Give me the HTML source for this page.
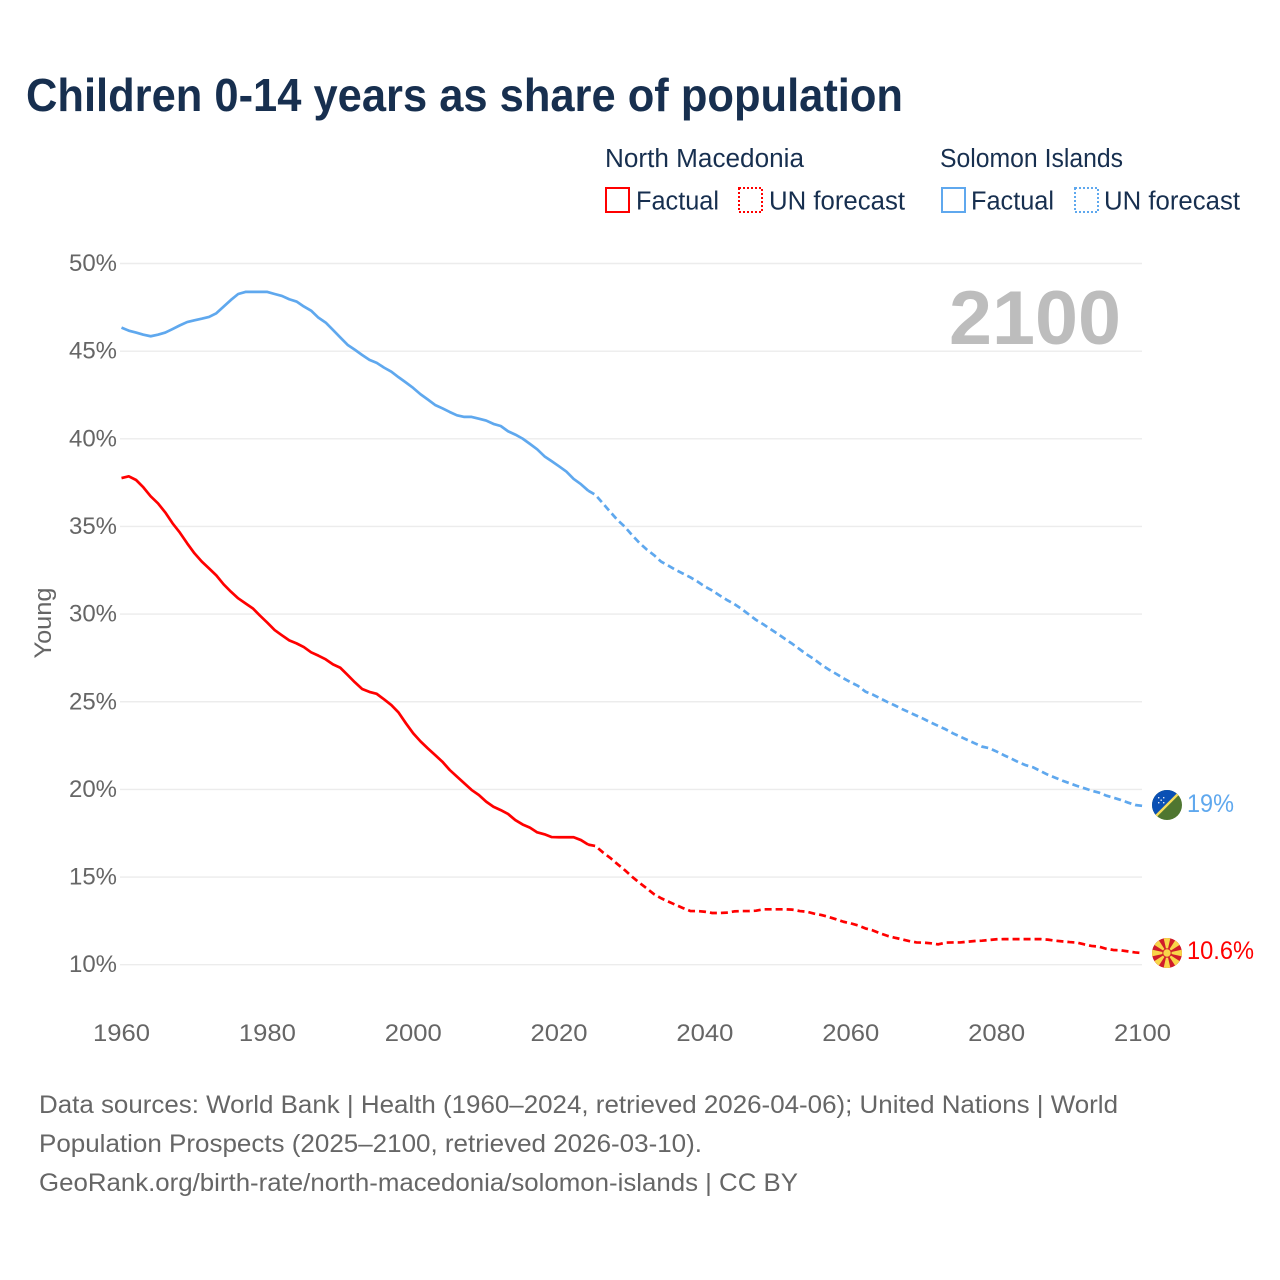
<!DOCTYPE html>
<html lang="en">
<head>
<meta charset="utf-8">
<title>Children 0-14 years as share of population</title>
<style>
  html, body { margin: 0; padding: 0; background: #fff; }
  svg { display: block; font-family: "Liberation Sans", sans-serif; }
  .tick { font-size: 24px; fill: #666; }
  .foot { font-size: 25px; fill: #666; }
  .leg { font-size: 25.5px; fill: #172f4f; }
</style>
</head>
<body>
<svg id="chart" xmlns="http://www.w3.org/2000/svg" width="1280" height="1280" viewBox="0 0 1280 1280">
  <rect width="1280" height="1280" fill="#fff"/>
  <text x="26" y="111" font-size="46" font-weight="700" fill="#172f4f" textLength="877" lengthAdjust="spacingAndGlyphs">Children 0-14 years as share of population</text>

  <g>
    <text class="leg" x="605" y="167" textLength="199" lengthAdjust="spacingAndGlyphs">North Macedonia</text>
    <rect x="606" y="188" width="23" height="24" fill="none" stroke="#ff0000" stroke-width="2"/>
    <text class="leg" x="636" y="209.5" textLength="83" lengthAdjust="spacingAndGlyphs">Factual</text>
    <rect x="739" y="188" width="23" height="24" fill="none" stroke="#ff0000" stroke-width="2" stroke-dasharray="2 2"/>
    <text class="leg" x="769" y="209.5" textLength="136" lengthAdjust="spacingAndGlyphs">UN forecast</text>

    <text class="leg" x="940" y="167" textLength="183" lengthAdjust="spacingAndGlyphs">Solomon Islands</text>
    <rect x="942" y="188" width="23" height="24" fill="none" stroke="#5fa8ee" stroke-width="2"/>
    <text class="leg" x="971" y="209.5" textLength="83" lengthAdjust="spacingAndGlyphs">Factual</text>
    <rect x="1075" y="188" width="23" height="24" fill="none" stroke="#5fa8ee" stroke-width="2" stroke-dasharray="2 2"/>
    <text class="leg" x="1104" y="209.5" textLength="136" lengthAdjust="spacingAndGlyphs">UN forecast</text>
  </g>

  <g id="grid"></g>
  <g id="yticks"></g>
  <g id="xticks"></g>

  <text transform="translate(51,623) rotate(-90)" text-anchor="middle" font-size="24" fill="#666" textLength="71" lengthAdjust="spacingAndGlyphs">Young</text>
  <text x="949" y="344" font-size="76" font-weight="700" fill="#bdbdbd" textLength="172" lengthAdjust="spacingAndGlyphs">2100</text>

  <g id="series"></g>

  <defs>
    <clipPath id="clipSb"><circle cx="1167" cy="805" r="15"/></clipPath>
    <clipPath id="clipMk"><circle cx="1167" cy="953" r="15"/></clipPath>
  </defs>

  <g clip-path="url(#clipSb)">
    <rect x="1152" y="790" width="30" height="30" fill="#4f7630"/>
    <polygon points="1152,790 1182,790 1152,820" fill="#0a50b4"/>
    <line x1="1152" y1="820" x2="1182" y2="790" stroke="#f5dc5a" stroke-width="2.4"/>
    <g fill="#dfe8f5">
      <rect x="1158" y="797" width="1.4" height="1.4"/>
      <rect x="1163" y="797" width="1.4" height="1.4"/>
      <rect x="1160.5" y="799.5" width="1.4" height="1.4"/>
      <rect x="1158" y="802" width="1.4" height="1.4"/>
      <rect x="1163" y="802" width="1.4" height="1.4"/>
    </g>
  </g>

  <g clip-path="url(#clipMk)">
    <rect x="1152" y="938" width="30" height="30" fill="#d01c2a"/>
    <g fill="#f8d54a">
      <polygon points="1163.6,938 1170.4,938 1167,953"/>
      <polygon points="1163.6,968 1170.4,968 1167,953"/>
      <polygon points="1152,949.6 1152,956.4 1167,953"/>
      <polygon points="1182,949.6 1182,956.4 1167,953"/>
      <polygon points="1154.1,944.7 1158.7,940.1 1167,953"/>
      <polygon points="1179.9,944.7 1175.3,940.1 1167,953"/>
      <polygon points="1154.1,961.3 1158.7,965.9 1167,953"/>
      <polygon points="1179.9,961.3 1175.3,965.9 1167,953"/>
      <circle cx="1167" cy="953" r="4.2" stroke="#d01c2a" stroke-width="1"/>
    </g>
  </g>

  <text x="1187" y="812" font-size="25" fill="#5fa8ee" textLength="47" lengthAdjust="spacingAndGlyphs">19%</text>
  <text x="1187" y="959" font-size="25" fill="#ff0000" textLength="67" lengthAdjust="spacingAndGlyphs">10.6%</text>

  <g>
    <text class="foot" x="39" y="1113" textLength="1079" lengthAdjust="spacingAndGlyphs">Data sources: World Bank | Health (1960–2024, retrieved 2026-04-06); United Nations | World</text>
    <text class="foot" x="39" y="1152" textLength="663" lengthAdjust="spacingAndGlyphs">Population Prospects (2025–2100, retrieved 2026-03-10).</text>
    <text class="foot" x="39" y="1191" textLength="759" lengthAdjust="spacingAndGlyphs">GeoRank.org/birth-rate/north-macedonia/solomon-islands | CC BY</text>
  </g>
</svg>

<script>
const yTickValues = [50, 45, 40, 35, 30, 25, 20, 15, 10];
const xTickValues = [1960, 1980, 2000, 2020, 2040, 2060, 2080, 2100];
const factualStartYear = 1960;
const forecastStartYear = 2024;

const mkFactual = [37.76,37.86,37.65,37.23,36.72,36.32,35.8,35.18,34.65,34.04,33.47,33.0,32.61,32.21,31.7,31.28,30.9,30.61,30.33,29.91,29.51,29.09,28.79,28.5,28.33,28.12,27.82,27.63,27.42,27.13,26.94,26.53,26.11,25.73,25.56,25.45,25.14,24.81,24.38,23.77,23.2,22.74,22.34,21.96,21.58,21.11,20.73,20.35,19.97,19.68,19.3,19.01,18.82,18.6,18.25,18.0,17.82,17.55,17.44,17.28,17.27,17.27,17.27,17.11,16.85];
const mkForecast = [16.85,16.77,16.41,16.1,15.74,15.4,15.02,14.68,14.36,14.03,13.79,13.6,13.41,13.23,13.06,13.06,13.02,12.95,12.95,12.97,13.04,13.06,13.06,13.08,13.16,13.16,13.16,13.16,13.14,13.06,13.02,12.91,12.83,12.72,12.59,12.45,12.36,12.24,12.07,11.96,11.79,11.65,11.54,11.45,11.35,11.27,11.26,11.22,11.16,11.26,11.27,11.27,11.31,11.35,11.37,11.41,11.45,11.46,11.46,11.46,11.46,11.46,11.46,11.43,11.37,11.33,11.29,11.26,11.16,11.07,11.03,10.91,10.84,10.82,10.76,10.7,10.66];
const sbFactual = [46.34,46.17,46.06,45.94,45.85,45.94,46.06,46.26,46.47,46.66,46.76,46.85,46.95,47.16,47.54,47.92,48.26,48.38,48.38,48.38,48.38,48.26,48.15,47.96,47.83,47.55,47.31,46.91,46.63,46.21,45.78,45.36,45.08,44.78,44.5,44.33,44.06,43.83,43.51,43.21,42.9,42.54,42.24,41.93,41.74,41.53,41.34,41.25,41.25,41.15,41.04,40.85,40.73,40.43,40.24,40.01,39.71,39.4,39.0,38.72,38.43,38.13,37.71,37.41,37.04];
const sbForecast = [37.04,36.8,36.32,35.84,35.37,34.99,34.51,34.07,33.69,33.37,32.99,32.76,32.52,32.31,32.1,31.85,31.57,31.34,31.07,30.81,30.58,30.3,29.99,29.67,29.42,29.14,28.87,28.58,28.3,27.99,27.69,27.42,27.1,26.83,26.59,26.34,26.11,25.9,25.58,25.41,25.2,24.99,24.8,24.59,24.4,24.21,24.02,23.81,23.62,23.43,23.2,23.01,22.82,22.63,22.44,22.35,22.16,21.95,21.76,21.55,21.38,21.26,21.05,20.84,20.67,20.5,20.35,20.2,20.07,19.93,19.82,19.65,19.53,19.4,19.25,19.11,19.06];

const SVG_NS = 'http://www.w3.org/2000/svg';
function xScale(year) { return 121.5 + (year - 1960) * (1142.5 - 121.5) / 140; }
function yScale(value) { return 263.5 + (50 - value) * (964.7 - 263.5) / 40; }

const gridGroup = document.getElementById('grid');
const yTickGroup = document.getElementById('yticks');
const xTickGroup = document.getElementById('xticks');
const seriesGroup = document.getElementById('series');

yTickValues.forEach(function (v) {
  const line = document.createElementNS(SVG_NS, 'line');
  
  
  line.setAttribute('x1', 120);
  line.setAttribute('x2', 1142);
  line.setAttribute('y1', yScale(v));
  line.setAttribute('y2', yScale(v));
  line.setAttribute('stroke', '#ececec');
  line.setAttribute('stroke-width', 1.4);
  gridGroup.appendChild(line);

  const label = document.createElementNS(SVG_NS, 'text');
  
  
  label.setAttribute('class', 'tick');
  label.setAttribute('x', 69);
  label.setAttribute('y', yScale(v) + 7.5);
  label.setAttribute('textLength', 48);
  label.setAttribute('lengthAdjust', 'spacingAndGlyphs');
  label.textContent = v + '%';
  yTickGroup.appendChild(label);
});

xTickValues.forEach(function (year) {
  const label = document.createElementNS(SVG_NS, 'text');
  
  
  label.setAttribute('class', 'tick');
  label.setAttribute('x', xScale(year) - 28.5);
  label.setAttribute('y', 1041);
  label.setAttribute('textLength', 57);
  label.setAttribute('lengthAdjust', 'spacingAndGlyphs');
  label.textContent = String(year);
  xTickGroup.appendChild(label);
});

function pathFrom(values, startYear) {
  return values.map(function (v, i) {
    return (i ? 'L' : 'M') + xScale(startYear + i).toFixed(2) + ' ' + yScale(v).toFixed(2);
  }).join(' ');
}

function drawLine(values, startYear, color, dashed, name) {
  const p = document.createElementNS(SVG_NS, 'path');
  
  
  p.setAttribute('d', pathFrom(values, startYear));
  p.setAttribute('fill', 'none');
  p.setAttribute('stroke', color);
  p.setAttribute('stroke-width', 2.7);
  p.setAttribute('stroke-linejoin', 'round');
  if (dashed) p.setAttribute('stroke-dasharray', '7 4');
  seriesGroup.appendChild(p);
}

drawLine(sbFactual, factualStartYear, '#5fa8ee', false, 'line-solomon-islands-factual');
drawLine(sbForecast, forecastStartYear, '#5fa8ee', true, 'line-solomon-islands-forecast');
drawLine(mkFactual, factualStartYear, '#ff0000', false, 'line-north-macedonia-factual');
drawLine(mkForecast, forecastStartYear, '#ff0000', true, 'line-north-macedonia-forecast');
</script>
</body>
</html>
